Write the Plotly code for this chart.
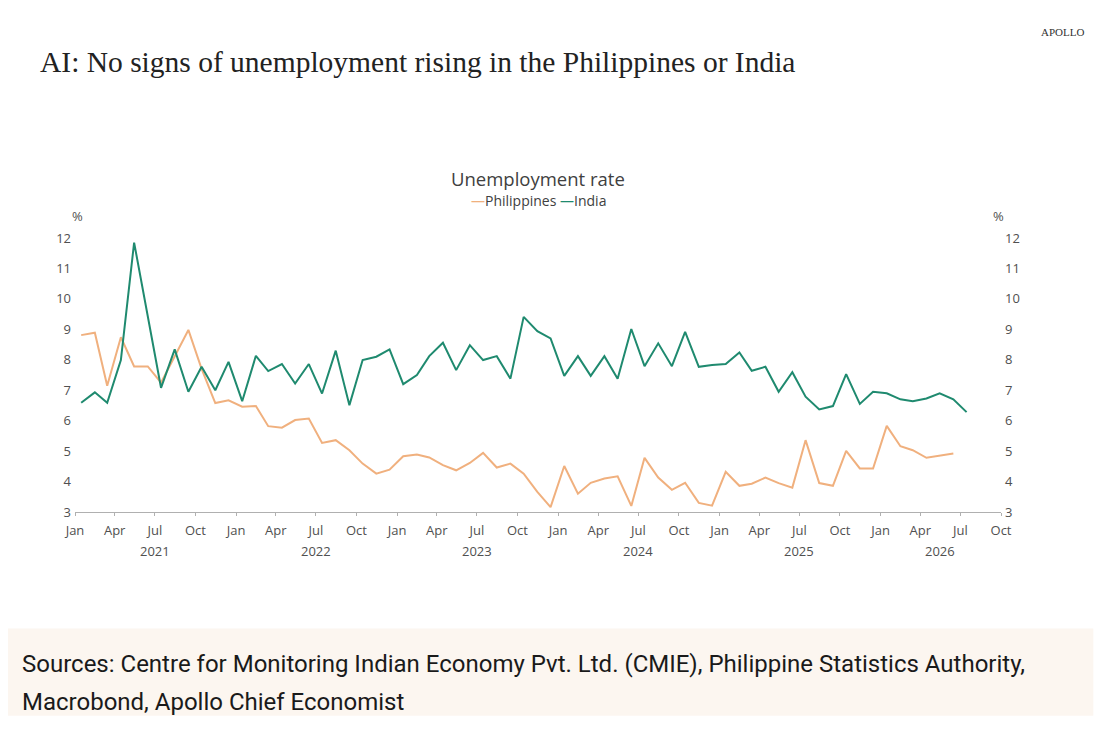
import pandas as pd
import plotly.graph_objects as go

# ---------- Data (monthly) ----------
india = [6.59, 6.93, 6.59, 7.99, 11.85, 9.4, 7.08, 8.34, 6.95, 7.77, 7.0, 7.93,
         6.64, 8.13, 7.63, 7.86, 7.22, 7.86, 6.89, 8.30, 6.51, 7.99, 8.10, 8.34,
         7.20, 7.50, 8.12, 8.56, 7.66, 8.48, 7.99, 8.12, 7.38, 9.41, 8.94, 8.70,
         7.47, 8.12, 7.47, 8.12, 7.38, 9.01, 7.79, 8.54, 7.79, 8.92, 7.77, 7.83,
         7.86, 8.24, 7.64, 7.77, 6.95, 7.59, 6.79, 6.37, 6.48, 7.53, 6.55, 6.95,
         6.90, 6.70, 6.64, 6.73, 6.90, 6.70, 6.28]

philippines = [8.81, 8.89, 7.15, 8.74, 7.78, 7.78, 7.25, 8.10, 8.98, 7.70, 6.58, 6.67,
               6.46, 6.48, 5.82, 5.77, 6.02, 6.07, 5.27, 5.36, 5.03, 4.59, 4.26, 4.39,
               4.83, 4.89, 4.79, 4.54, 4.37, 4.61, 4.94, 4.46, 4.59, 4.26, 3.66, 3.16,
               4.51, 3.60, 3.96, 4.10, 4.17, 3.20, 4.78, 4.13, 3.73, 3.96, 3.30, 3.21,
               4.32, 3.86, 3.93, 4.13, 3.95, 3.80, 5.36, 3.95, 3.86, 5.01, 4.43, 4.43,
               5.83, 5.16, 5.03, 4.78, 4.84, 4.92]

start_month = "2021-01-01"
month_labels = ["Jan", "Apr", "Jul", "Oct"]
year_labels = ["2021", "2022", "2023", "2024", "2025", "2026"]
year_label_dates = ["2021-07-01", "2022-07-01", "2023-07-01", "2024-07-01", "2025-07-01", "2026-05-15"]
y_ticks = list(range(3, 13))

GREEN = "#1f8a6f"
ORANGE = "#f0b07e"
GREY = "#505050"

# page offset (body margin) and plot box in page pixels
OFF = 8
W, H = 1111 - OFF, 735 - OFF
PX_L, PX_R = 75, 1000.7
PY_T, PY_B = 238.3, 511.7
PW, PH = PX_R - PX_L, PY_B - PY_T


def px(x):
    return (x - PX_L) / PW


def py(y):
    return (PY_B - y) / PH


# points sit mid-month
dates_in = pd.date_range(start_month, periods=len(india), freq="MS") + pd.Timedelta(days=14)
dates_ph = pd.date_range(start_month, periods=len(philippines), freq="MS") + pd.Timedelta(days=14)
quarters = pd.date_range(start_month, "2026-10-01", freq="QS")
quarter_text = [month_labels[i % 4] for i in range(len(quarters))]

fig = go.Figure()
fig.add_trace(go.Scatter(x=dates_ph, y=philippines, mode="lines", name="Philippines",
                         line=dict(color=ORANGE, width=2)))
fig.add_trace(go.Scatter(x=dates_in, y=india, mode="lines", name="India",
                         line=dict(color=GREEN, width=2)))
# same series on the right axis, just so the mirrored axis is drawn
fig.add_trace(go.Scatter(x=dates_in, y=india, mode="lines", yaxis="y2", opacity=0,
                         showlegend=False, hoverinfo="skip"))

tick_font = dict(family="Open Sans", size=13, color=GREY)

fig.update_layout(
    width=W,
    height=H,
    margin=dict(l=PX_L - OFF, r=W - (PX_R - OFF), t=PY_T - OFF, b=H - (PY_B - OFF)),
    paper_bgcolor="white",
    plot_bgcolor="white",
    showlegend=False,
    title=dict(text="AI: No signs of unemployment rising in the Philippines or India",
               x=(40 - OFF) / W, xanchor="left", y=1 - (62 - OFF) / H, yanchor="middle",
               font=dict(family="Liberation Serif", size=29.5, color="#222222")),
    xaxis=dict(range=["2021-01-01", "2026-10-01"], tickvals=quarters, ticktext=quarter_text,
               showgrid=False, zeroline=False, showline=True, linecolor="#b0b0b0", linewidth=1,
               ticks="outside", ticklen=3, tickcolor="#b0b0b0", tickfont=tick_font,
               ticklabelstandoff=3),
    yaxis=dict(range=[3, 12], tickvals=y_ticks, showgrid=False, zeroline=False,
               showline=False, ticks="", tickfont=tick_font, ticklabelstandoff=3),
    yaxis2=dict(range=[3, 12], tickvals=y_ticks, overlaying="y", side="right",
                showgrid=False, zeroline=False, showline=False, ticks="",
                tickfont=tick_font, ticklabelstandoff=3),
)

annotations = [
    dict(text="APOLLO", xref="paper", yref="paper", x=px(1086), y=py(33),
         xanchor="right", yanchor="middle", showarrow=False,
         font=dict(family="Liberation Serif", size=11, color="#333333")),
    dict(text="Unemployment rate", xref="paper", yref="paper", x=px(538), y=py(179),
         xanchor="center", yanchor="middle", showarrow=False,
         font=dict(family="Open Sans", size=18.5, color="#404040")),
    dict(text=f"<span style='color:{ORANGE}'>—</span>Philippines "
              f"<span style='color:{GREEN}'>—</span>India",
         xref="paper", yref="paper", x=px(538), y=py(201),
         xanchor="center", yanchor="middle", showarrow=False,
         font=dict(family="Open Sans", size=14, color="#404040")),
    dict(text="%", xref="paper", yref="paper", x=px(77), y=py(216), xanchor="center",
         yanchor="middle", showarrow=False, font=tick_font),
    dict(text="%", xref="paper", yref="paper", x=px(998), y=py(216), xanchor="center",
         yanchor="middle", showarrow=False, font=tick_font),
]
for label, d in zip(year_labels, year_label_dates):
    annotations.append(dict(text=label, x=d, xref="x", y=py(551), yref="paper",
                            xanchor="center", yanchor="middle", showarrow=False, font=tick_font))

# footer box with sources
fig.add_shape(type="rect", xref="paper", yref="paper",
              x0=px(8), x1=px(1093), y0=py(628), y1=py(715),
              fillcolor="#fcf6f0", line=dict(width=0), layer="below")
footer_lines = ["Sources: Centre for Monitoring Indian Economy Pvt. Ltd. (CMIE), Philippine Statistics Authority,",
                "Macrobond, Apollo Chief Economist"]
for line, ly in zip(footer_lines, [663, 701]):
    annotations.append(dict(text=line, xref="paper", yref="paper", x=px(20),
                            y=py(ly), xanchor="left", yanchor="middle",
                            showarrow=False, font=dict(family="Roboto", size=24, color="#1a1a1a")))

fig.update_layout(annotations=annotations)

fig.write_html("out.html")
